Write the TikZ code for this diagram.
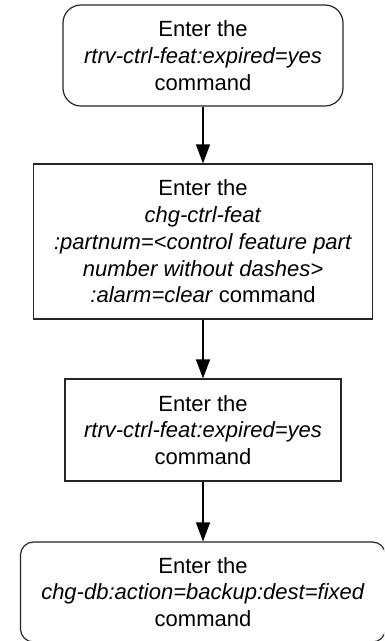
\documentclass[tikz,border=0pt]{standalone}
\usepackage{fontspec}
\setmainfont{Liberation Sans}
\usetikzlibrary{arrows.meta}
\begin{document}
\begin{tikzpicture}[x=1pt,y=1pt,
  every node/.style={font=\fontsize{22}{26.75}\selectfont, align=center, inner sep=0pt, draw=black!85, line width=1.2pt},
  rbox/.style={rounded corners=18pt},
  rboxs/.style={rounded corners=13pt},
  sbox/.style={},
  arr/.style={draw=black, line width=1.2pt, -{Triangle[width=14pt,length=19pt]}}]
\useasboundingbox (0,0) rectangle (384,-641);
\clip (0,0) rectangle (384,-641);
\node[rbox, minimum width=280pt, minimum height=101pt] (b1) at (203,-55.5)
  {Enter the\\\textit{rtrv-ctrl-feat:expired=yes}\\command};
\node[sbox, minimum width=339pt, minimum height=155pt] (b2) at (203,-241.5)
  {Enter the\\\textit{chg-ctrl-feat}\\\textit{:partnum=<control feature part}\\\textit{number without dashes>}\\\textit{:alarm=clear} command};
\node[sbox, minimum width=276pt, minimum height=102pt] (b3) at (203,-430)
  {Enter the\\\textit{rtrv-ctrl-feat:expired=yes}\\command};
\node[rboxs, minimum width=365pt, minimum height=100pt] (b4) at (203,-592)
  {Enter the\\\textit{chg-db:action=backup:dest=fixed}\\command};
\draw[arr] (b1) -- (b2);
\draw[arr] (b2) -- (b3);
\draw[arr] (b3) -- (b4);
\end{tikzpicture}
\end{document}
